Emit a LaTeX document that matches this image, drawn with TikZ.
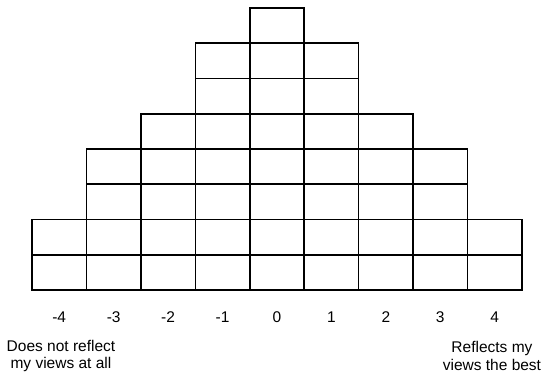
\documentclass[tikz,border=0pt]{standalone}
\usepackage{fontspec}
\setmainfont{Liberation Sans}

\begin{document}
\begin{tikzpicture}[x=54.44pt,y=35.25pt]
        \tikzset{
            cell/.style={line width=1.6pt, line join=miter},
            score/.style={font=\fontsize{15.5}{18}\selectfont, inner sep=0pt},
            anchortext/.style={font=\fontsize{15.5}{18}\selectfont, align=center, inner sep=0pt}
        }
        \useasboundingbox (-5.088,-2.553) rectangle (5.015,8.227);
        \foreach \c/\h [count=\k] in {-4/2,-3/4,-2/5,-1/7,0/8,1/7,2/5,3/4,4/2} {
            \foreach \r in {1,...,\h} {
                \draw[cell] ({\c-0.5},{\r-1}) rectangle ({\c+0.5},\r);
            }
            \node[score] (score\k) at (\c,-0.766) {\c};
        }
        \node[anchortext] (lowend) at (-3.968,-1.872) {Does not reflect\\my views at all};
        \node[anchortext] (highend) at (3.949,-1.872) {Reflects my\\views the best};
    \end{tikzpicture}
\end{document}
